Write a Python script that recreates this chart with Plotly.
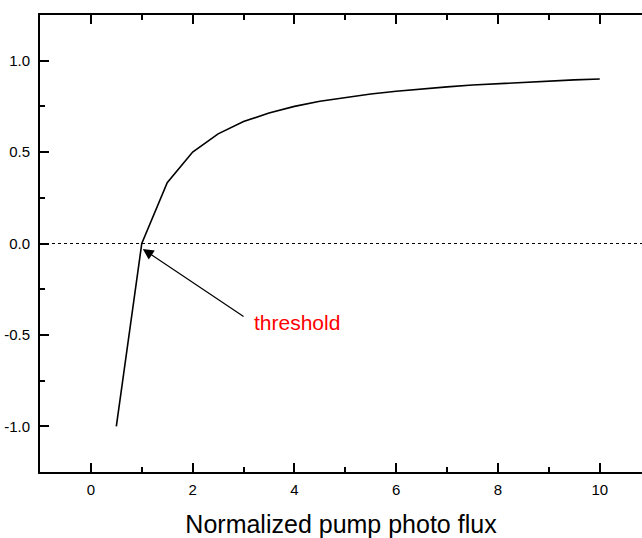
import plotly.graph_objects as go

# Data
pump_flux = [0.5, 1.0, 1.5, 2.0, 2.5, 3.0, 3.5, 4.0, 4.5, 5.0, 5.5, 6.0,
             6.5, 7.0, 7.5, 8.0, 8.5, 9.0, 9.5, 10.0]
gain = [-1.0, 0.0, 0.333, 0.500, 0.600, 0.667, 0.714, 0.750, 0.778, 0.800,
        0.818, 0.833, 0.846, 0.857, 0.867, 0.875, 0.882, 0.889, 0.895, 0.900]
threshold_level = 0.0
threshold_point = (1.0, 0.0)
threshold_label = "threshold"
x_title = "Normalized pump photo flux"
x_ticks = [0, 2, 4, 6, 8, 10]
y_ticks = [-1.0, -0.5, 0.0, 0.5, 1.0]
y_ticklabels = ["-1.0", "-0.5", "0.0", "0.5", "1.0"]

FONT = "Arial, Liberation Sans, sans-serif"

fig = go.Figure()
fig.add_trace(go.Scatter(x=pump_flux, y=gain, mode="lines",
                         line=dict(color="black", width=1.6),
                         showlegend=False, hoverinfo="skip"))

# dotted threshold line
fig.add_shape(type="line", xref="paper", yref="y", x0=0, x1=1,
              y0=threshold_level, y1=threshold_level,
              line=dict(color="black", width=1.2, dash="dot"))

fig.add_annotation(x=threshold_point[0] + 0.02, y=threshold_point[1] - 0.03,
                   ax=3.03, ay=-0.405, xref="x", yref="y", axref="x", ayref="y",
                   text="", showarrow=True, arrowhead=2, arrowsize=1.8,
                   arrowwidth=1.2, arrowcolor="black")
fig.add_annotation(x=3.17, y=-0.43, xref="x", yref="y", text=threshold_label,
                   showarrow=False, xanchor="left", yanchor="middle",
                   font=dict(family=FONT, size=21, color="red"))

axis_common = dict(showgrid=False, zeroline=False, showline=True,
                   linecolor="black", linewidth=2, ticks="inside",
                   tickcolor="black", tickwidth=2, ticklen=9,
                   tickfont=dict(family=FONT, size=15, color="black"))

fig.update_xaxes(range=[-1, 10.83], tickvals=x_ticks, mirror="ticks",
                 ticklabelstandoff=3,
                 minor=dict(dtick=1, tick0=1, ticks="inside", ticklen=5,
                            tickwidth=2, tickcolor="black"),
                 title=dict(text=x_title, standoff=20,
                            font=dict(family=FONT, size=25, color="black")),
                 **axis_common)
fig.update_yaxes(range=[-1.25, 1.25], tickvals=y_ticks, ticktext=y_ticklabels,
                 mirror=False, ticklabelstandoff=5,
                 minor=dict(dtick=0.25, tick0=0.25, ticks="inside", ticklen=5,
                            tickwidth=2, tickcolor="black"),
                 **axis_common)

fig.update_layout(width=642, height=538, plot_bgcolor="white",
                  paper_bgcolor="white",
                  margin=dict(l=40, r=0, t=15, b=66, autoexpand=False))

fig.write_html("out.html")
